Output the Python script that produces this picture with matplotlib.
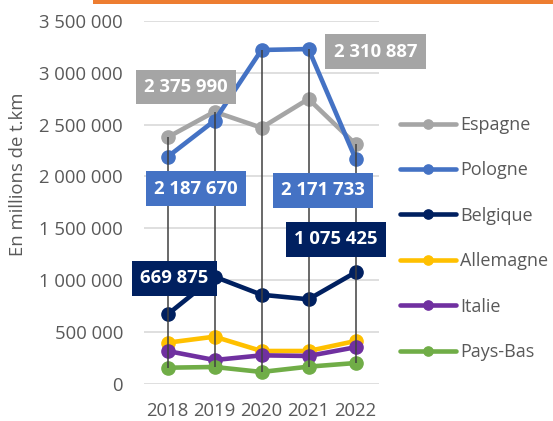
import matplotlib
matplotlib.use("Agg")
import matplotlib.pyplot as plt
from matplotlib.patches import Rectangle
import numpy as np

years = ["2018", "2019", "2020", "2021", "2022"]
series_names = ["Espagne", "Pologne", "Belgique", "Allemagne", "Italie", "Pays-Bas"]
espagne = [2375990, 2623000, 2469000, 2746000, 2310887]
pologne = [2187670, 2537000, 3218000, 3227000, 2171733]
belgique = [669875, 1034000, 860000, 816000, 1075425]
allemagne = [398000, 456000, 318000, 318000, 414000]
italie = [318000, 231000, 276000, 270000, 354000]
paysbas = [157000, 164000, 116000, 167000, 202000]
colors = ["#A5A5A5", "#4472C4", "#002060", "#FFC000", "#7030A0", "#70AD47"]
yticks = [0, 500000, 1000000, 1500000, 2000000, 2500000, 3000000, 3500000]

data = [espagne, pologne, belgique, allemagne, italie, paysbas]

plt.rcParams['font.family'] = ['Open Sans', 'DejaVu Sans']
TXT = "#595959"
FS = 13.3

fig = plt.figure(figsize=(5.53, 4.21), dpi=100)
ax = fig.add_axes([144/553, 37/421, 235/553, 363.3/421])
x = np.arange(len(years))

for vals, name, c in zip(data, series_names, colors):
    ax.plot(x, vals, color=c, lw=3.3, marker='o', markersize=9.5, label=name,
            solid_capstyle='round', zorder=3)

arr = np.array(data)
ax.vlines(x, arr.min(axis=0), arr.max(axis=0), color="#404040", lw=1.1, zorder=5)

ax.set_xlim(-0.5, 4.5)
ax.set_ylim(0, 3500000)
ax.set_yticks(yticks)
ax.set_yticklabels([f"{v:,}".replace(",", " ") for v in yticks], color=TXT, fontsize=FS)
ax.set_xticks(x)
ax.set_xticklabels(years, color=TXT, fontsize=FS)
ax.tick_params(axis='y', length=0, pad=15)
ax.tick_params(axis='x', length=0, pad=13)
for s in ax.spines.values():
    s.set_visible(False)
ax.grid(axis='y', color="#D9D9D9", lw=1.2, zorder=0)
ax.set_axisbelow(True)
fig.text(18/553, 1 - 174/421, "En millions de t.km", rotation=90, ha='center', va='center',
         color=TXT, fontsize=FS)

labels = [
    (0, espagne, 0, (18.7, 50.4)),
    (0, espagne, 4, (20, 92.6)),
    (1, pologne, 0, (28.7, -31.6)),
    (1, pologne, 4, (-32.7, -31.9)),
    (2, belgique, 0, (6.7, 36)),
    (2, belgique, 4, (-19.7, 32.9)),
]
for si, vals, i, off in labels:
    ax.annotate(f"{vals[i]:,}".replace(",", " "), (x[i], vals[i]), xytext=off,
                textcoords='offset pixels', ha='center', va='center',
                color='white', fontsize=FS, fontweight='bold', zorder=10,
                bbox=dict(boxstyle='square,pad=0.45', fc=colors[si], ec='none'))

leg = ax.legend(loc='center left', bbox_to_anchor=(400/553, 1 - 238.5/421),
                bbox_transform=fig.transFigure, frameon=False, fontsize=13,
                handlelength=3.1, handletextpad=0.25, labelspacing=1.52,
                borderaxespad=0, borderpad=0, markerscale=0.7)
for t in leg.get_texts():
    t.set_color(TXT)

fig.patches.append(Rectangle((93/553, 1 - 4/421), 460/553, 4/421, transform=fig.transFigure,
                             fc="#ED7D31", ec='none'))

fig.savefig("out.png", dpi=100)
